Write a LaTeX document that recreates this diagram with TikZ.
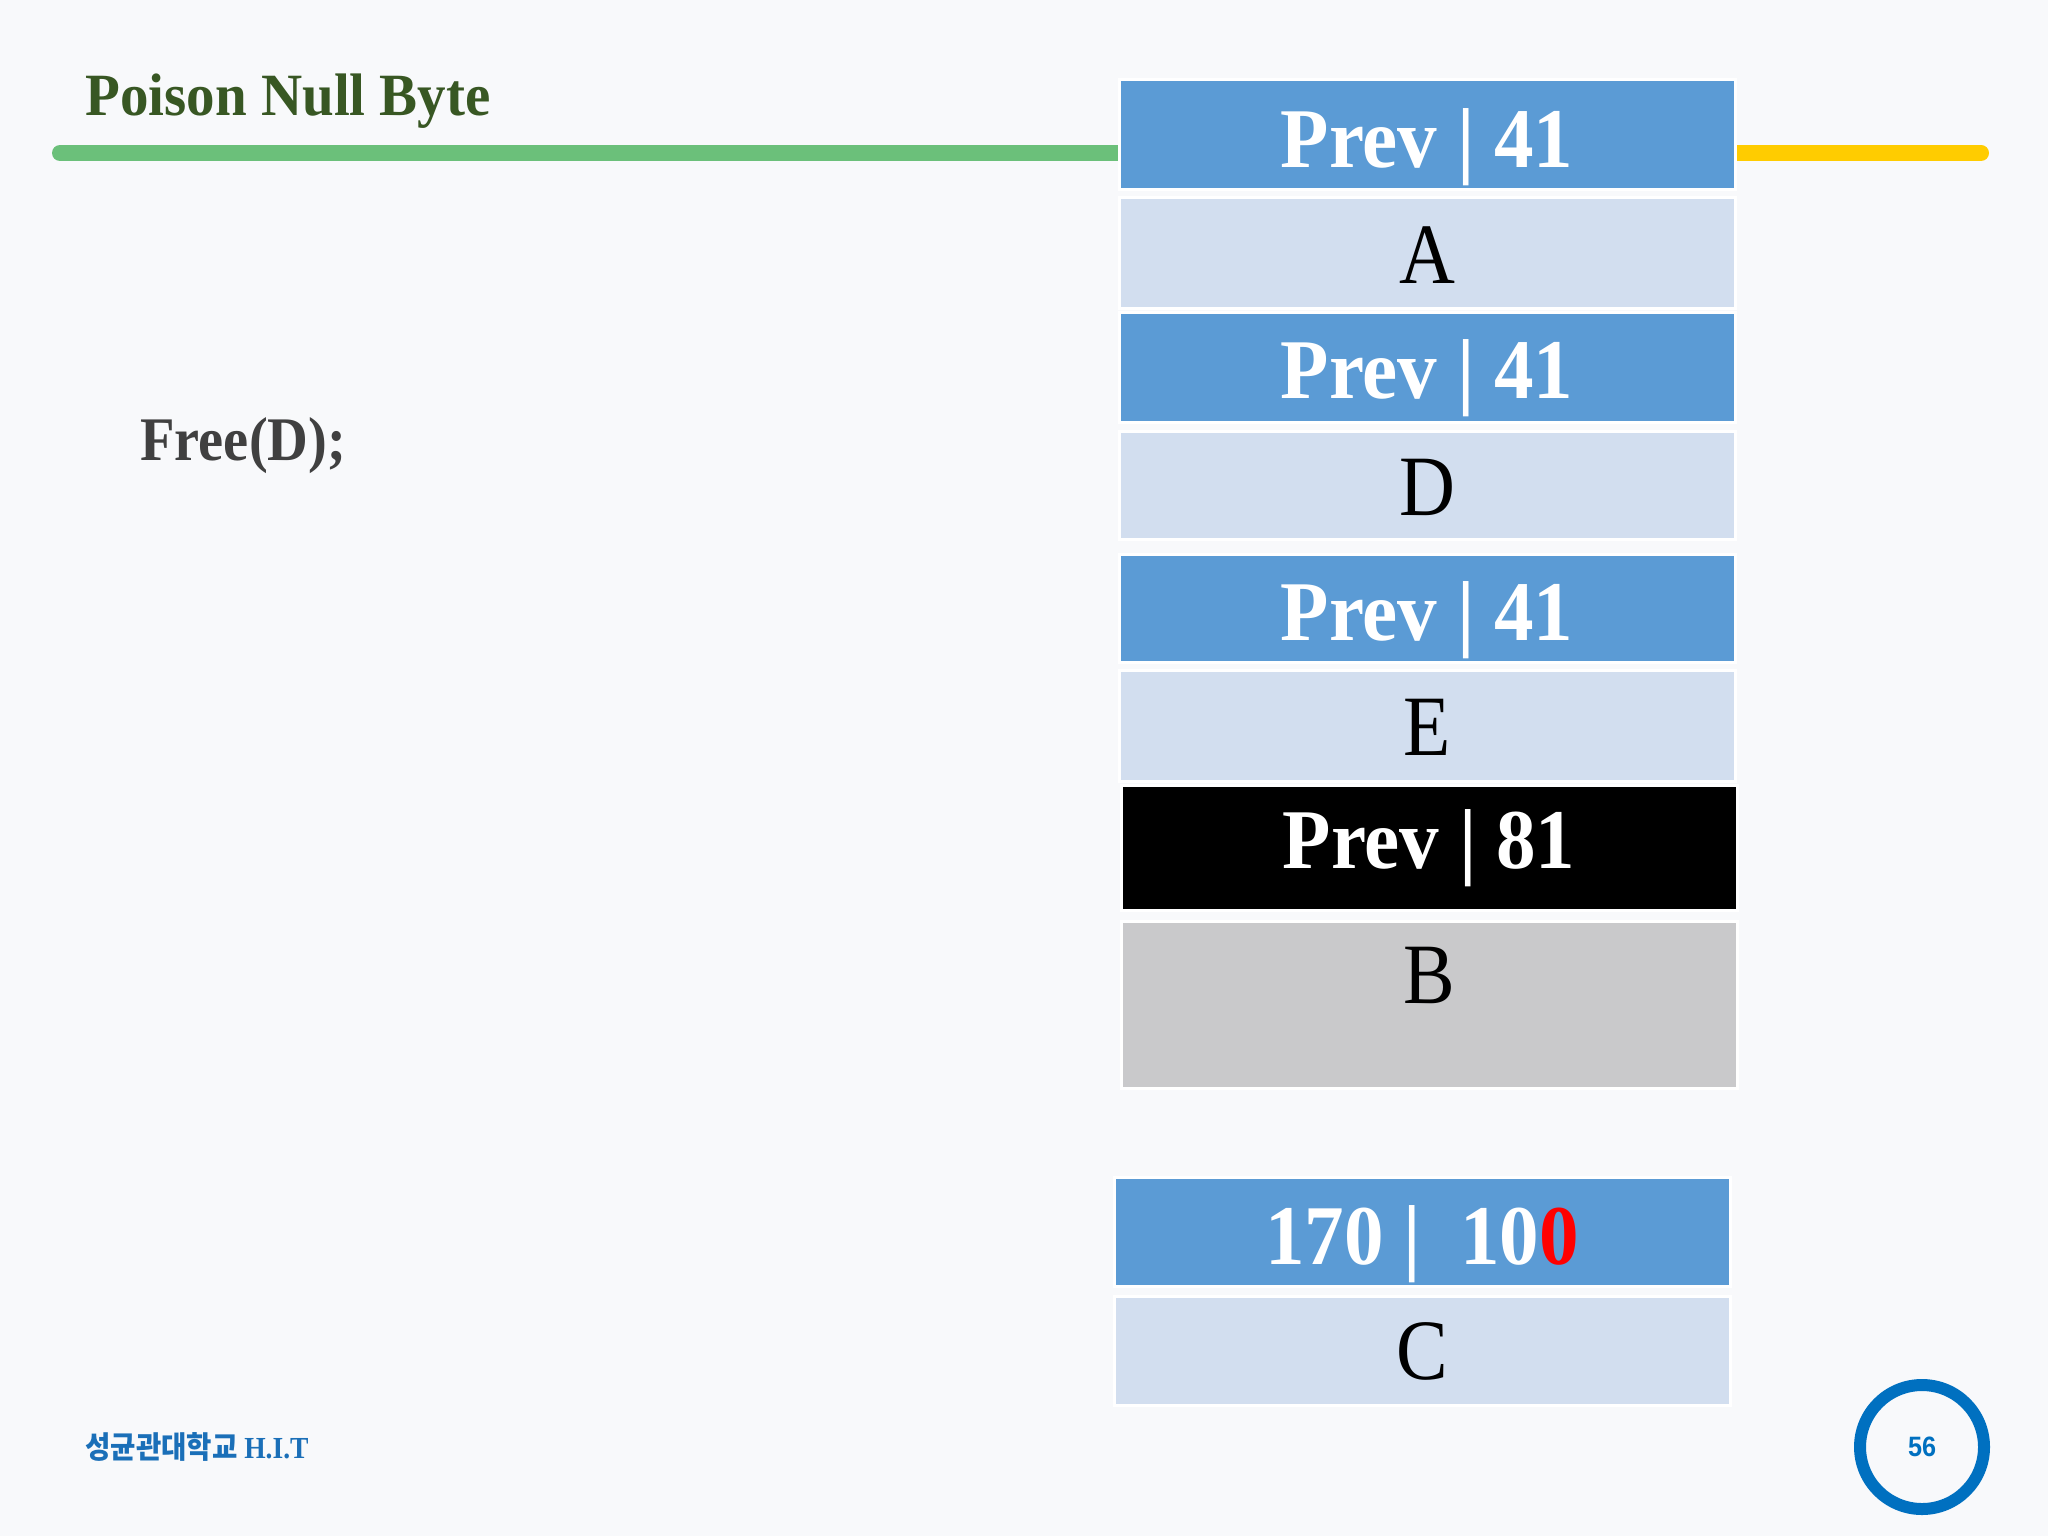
\documentclass[tikz,border=0pt]{standalone}
\usepackage{fontspec}
\setmainfont{Liberation Serif}
\newfontfamily\cjkfont{Noto Sans CJK KR}
\newfontfamily\arialfont{Liberation Sans}
\definecolor{bgc}{HTML}{F8F9FB}
\definecolor{midblue}{HTML}{5B9BD5}
\definecolor{lightblue}{HTML}{D2DEEF}
\definecolor{graybox}{HTML}{C9C9CB}
\definecolor{titlegreen}{HTML}{385723}
\definecolor{greenline}{HTML}{6BC07A}
\definecolor{yellowline}{HTML}{FFCC00}
\definecolor{freegray}{HTML}{404040}
\definecolor{footblue}{HTML}{1A6FB8}
\definecolor{circblue}{HTML}{0070C0}
\definecolor{redzero}{HTML}{FF0000}
\tikzset{
  cellbox/.style={draw=white, line width=1.5pt},
  prevtxt/.style={anchor=base, inner sep=0, text=white, font=\fontsize{42.5}{42.5}\selectfont\bfseries},
  lettxt/.style={anchor=base, inner sep=0, text=black, font=\fontsize{43}{43}\selectfont},
}
\newcommand{\sq}[1]{\scalebox{0.9}[1]{#1}}
\newcommand{\sqb}[1]{\scalebox{0.93}[1]{#1}}
\begin{document}
\begin{tikzpicture}[x=0.5pt,y=-0.5pt]
\fill[bgc] (0,0) rectangle (2048,1536);
\useasboundingbox (0,0) rectangle (2048,1536);
% header lines
\draw[greenline, line width=8pt, line cap=round] (60,153) -- (1125,153);
\draw[yellowline, line width=8pt, line cap=round] (1728,153) -- (1981,153);
% title
\node[anchor=base west, inner sep=0, text=titlegreen, font=\fontsize{30}{30}\selectfont\bfseries] (title) at (85,115) {\scalebox{0.95}[1]{Poison Null Byte}};
\node[anchor=base west, inner sep=0, text=freegray, font=\fontsize{31}{31}\selectfont\bfseries] (free) at (140,460) {\scalebox{0.91}[1]{Free(D);}};
% cells
\fill[midblue, cellbox] (1119,80) rectangle (1735,189);
\fill[lightblue, cellbox] (1119,197) rectangle (1735,308);
\fill[midblue, cellbox] (1119,312) rectangle (1735,422);
\fill[lightblue, cellbox] (1119,431) rectangle (1735,539);
\fill[midblue, cellbox] (1119,554) rectangle (1735,662);
\fill[lightblue, cellbox] (1119,670) rectangle (1735,781);
\fill[black, cellbox] (1121,785) rectangle (1737,910);
\fill[graybox, cellbox] (1121,921) rectangle (1737,1088);
\fill[midblue, cellbox] (1114,1177) rectangle (1730,1286);
\fill[lightblue, cellbox] (1114,1296) rectangle (1730,1405);
% texts
\node[prevtxt] (p1) at (1427,167) {\sqb{Prev | 41}};
\node[lettxt] (ca) at (1427,283) {\sq{A}};
\node[prevtxt] (p2) at (1427,398) {\sqb{Prev | 41}};
\node[lettxt] (cd) at (1427,515) {\sq{D}};
\node[prevtxt] (p3) at (1427,640) {\sqb{Prev | 41}};
\node[lettxt] (ce) at (1427,755) {\sq{E}};
\node[prevtxt] (p4) at (1429,868) {\sqb{Prev | 81}};
\node[lettxt] (cb) at (1429,1003) {\sq{B}};
\node[prevtxt] (p5) at (1422,1264) {\sqb{170 |\ \ 10\textcolor{redzero}{0}}};
\node[lettxt] (cc) at (1422,1379) {\sq{C}};
% footer
\node[anchor=base west, inner sep=0, text=footblue, font=\fontsize{15.3}{15.3}\selectfont\bfseries] (foot) at (85,1458) {\sq{{\cjkfont\bfseries 성균관대학교} H.I.T}};
\draw[circblue, line width=6pt] (1922,1447) circle [radius=62];
\node[text=circblue, inner sep=0, font=\arialfont\fontsize{14}{14}\selectfont\bfseries] (page) at (1922,1447) {\sq{56}};
\end{tikzpicture}
\end{document}
